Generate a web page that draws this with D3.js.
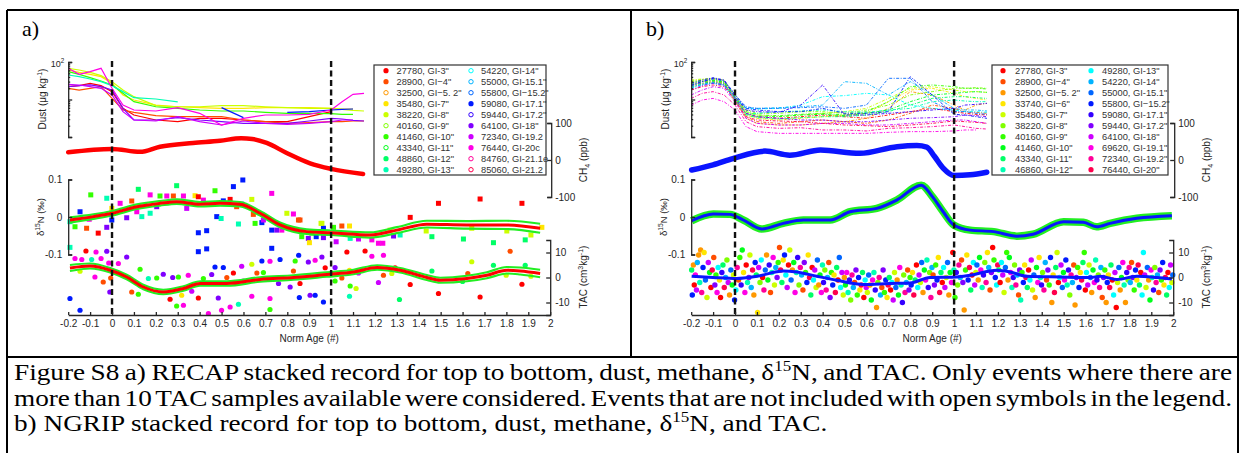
<!DOCTYPE html>
<html>
<head>
<meta charset="utf-8">
<script src="https://cdn.jsdelivr.net/npm/d3@7"></script>
<style>
  body { margin: 0; background: #fff; }
</style>
</head>
<body>
<svg id="fig" width="1244" height="453"></svg>
<script>
// ---- data ----
const xTicks = [-0.2,-0.1,0,0.1,0.2,0.3,0.4,0.5,0.6,0.7,0.8,0.9,1,1.1,1.2,1.3,1.4,1.5,1.6,1.7,1.8,1.9,2];
const dustMinorTicks = [2,3,4,5,6,7,8,9,20,30,40,50,60,70,80,90];
const dustMajorTicks = [1,10,100];
const dnTicks = [-0.1,0,0.1];
const ch4Ticks = [-100,0,100];
const tacTicks = [-10,0,10];

// legend entries (colour index = position in list)
const legendA = ['27780, GI-3"','28900, GI\u22124"','32500, GI\u22125. 2"','35480, GI-7"','38220, GI-8"','40160, GI-9"','41460, GI-10"','43340, GI-11"','48860, GI-12"','49280, GI-13"',
  '54220, GI-14"','55000, GI-15.1"','55800, GI\u221215.2"','59080, GI-17.1"','59440, GI-17.2"','64100, GI-18"','72340, GI-19.2','76440, GI-20c','84760, GI-21.1e','85060, GI-21.2'];
const legendAFilled = [1,1,0,1,1,0,1,0,1,1, 0,0,0,1,0,1,1,1,0,0];
const legendB = ['27780, GI-3"','28900, GI\u22124"','32500, GI\u22125. 2"','33740, GI\u22126"','35480, GI-7"','38220, GI-8"','40160, GI-9"','41460, GI-10"','43340, GI-11"','46860, GI-12"',
  '49280, GI-13"','54220, GI-14"','55000, GI-15.1"','55800, GI\u221215.2"','59080, GI-17.1"','59440, GI-17.2"','64100, GI-18"','69620, GI-19.1"','72340, GI-19.2"','76440, GI-20"'];
const legendBFilled = [1,1,1,1,1,1,1,1,1,1, 1,1,1,1,1,1,1,1,1,1];

// dust (ug/kg) on a shared norm-age grid
const dustAges = [-0.2,-0.15,-0.1,-0.05,0,0.05,0.1,0.2,0.3,0.4,0.5,0.6,0.7,0.8,0.9,1.0,1.05,1.1,1.15];
const dustA = [
  {c:0,  v:[22,23.4,27,23.4,16.2,5.8,3.86,2.84,2.56,3.15,3.15,2.84,2.56,2.56,3.48,4.74,null,null,null]},
  {c:1,  v:[19.9,17.9,19.9,22,10.7,5.25,4.55,3.71,3.48,3.48,3.48,2.84,2.56,2.31,2.41,2.56,2.56,2.67,2.67]},
  {c:3,  v:[61.2,53,46.9,40.6,27,13.2,9.7,7.1,6.4,6.06,5.8,5.8,6.06,6.06,6.06,5.8,5.58,5.58,null]},
  {c:4,  v:[67.8,61.2,53,43.2,29.9,17.9,11.9,6.85,6.4,6.4,6.85,6.85,6.4,6.06,5.8,5.8,5.47,5.14,4.94]},
  {c:6,  v:[55.2,46.9,38.2,31.1,24.4,14.6,8.75,6.4,5.8,5.25,4.94,4.94,4.55,4.28,4.28,4.19,4.02,4.02,null]},
  {c:9,  v:[45,40.6,35.2,29.9,23.4,16.2,11.2,10.3,8.6,null,null,null,null,null,null,null,null,null,null]},
  {c:13, v:[null,null,null,null,null,null,null,null,null,null,6.06,3.28,null,4.55,4.74,5.25,5.47,5.58,null]},
  {c:15, v:[22,23.4,24.4,22,17.9,5.8,2.84,2.84,3.28,2.84,2.56,2.31,2.31,2.31,2.67,3.15,3.02,2.78,2.67]},
  {c:16, v:[25.4,24.4,22,19.9,13.2,4.74,2.84,2.67,3.48,2.56,2.09,2.67,2.31,2.18,2.31,2.56,2.84,2.84,null]},
  {c:17, v:[67.8,46.9,55.2,67.8,19.9,7.1,5.25,4.94,6.06,4.28,2.09,3.15,3.86,3.86,4.02,5.25,8.75,13.7,14.6]}
];
const dustB = [
  {c:0,  v:[24.4,27,29.9,27,10.7,4.28,3.48,3.15,3.48,3.86,3.48,3.15,3.86,4.74,5.8,4.74,4.28,4.02,3.86]},
  {c:1,  v:[22,25.4,28.7,25.4,9.7,3.48,2.56,2.31,2.56,2.84,2.56,2.31,2.84,4.28,7.1,5.8,4.74,4.55,4.28]},
  {c:2,  v:[27,29.9,31.1,28.7,8.75,3.15,2.31,2.09,2.09,2.31,2.56,3.15,5.8,16.2,13.2,7.1,5.25,7.1,7.9]},
  {c:3,  v:[29.9,33.1,35.2,29.9,10.7,3.86,3.15,2.84,3.15,3.48,3.86,4.28,8.75,17.9,19.9,14.6,11.9,10.7,9.7]},
  {c:4,  v:[33.1,35.2,36.7,33.1,11.9,4.74,3.86,3.48,3.86,4.28,4.74,5.8,10.7,19.9,22,17.9,16.2,16.2,15.5]},
  {c:5,  v:[31.1,33.8,36.7,32.4,13.2,5.25,4.28,4.28,4.74,4.74,4.28,5.25,7.1,13.2,16.2,19.9,19.9,20.7,19.9]},
  {c:6,  v:[28.7,31.1,33.1,29.9,11.9,4.74,3.86,3.71,4.02,4.28,3.86,4.74,8.75,22,24.4,22,19.9,19.9,19.1]},
  {c:7,  v:[25.4,29.9,32.4,28.7,11.2,4.28,3.48,3.48,3.86,4.02,3.71,4.28,5.25,8.75,13.2,14.6,15.5,16.2,15.5]},
  {c:8,  v:[23.4,27,29.9,26.4,10.3,3.86,3.28,3.02,3.28,3.48,3.48,3.86,4.74,7.1,10.7,11.9,11.9,11.2,10.7]},
  {c:9,  v:[22,25.4,27.5,24.4,9.7,4.02,4.28,4.74,4.94,5.25,4.74,4.55,5.25,5.8,8.75,9.7,9.1,8.75,8.75]},
  {c:10, v:[19.9,24.4,27,23.4,10.7,5.8,5.58,5.8,7.1,11.9,12.7,14.6,13.2,7.1,5.8,5.25,4.74,4.74,4.55]},
  {c:11, v:[20.7,25.4,28.7,24.4,11.2,6.06,5.8,6.06,6.4,7.1,29.9,27,13.2,29.9,13.2,5.8,5.25,5.25,4.94]},
  {c:12, v:[24.4,29.9,35.2,31.1,13.2,6.4,5.8,5.8,6.06,6.4,5.8,7.1,36.7,36.7,8.75,4.74,4.74,4.28,4.02]},
  {c:13, v:[27,33.1,38.2,33.1,13.7,5.8,5.25,4.74,4.74,5.8,4.28,4.28,4.74,40.6,13.2,4.02,3.86,3.48,3.15]},
  {c:14, v:[23.4,29.9,36.7,32.4,11.9,5.25,4.74,4.55,7.1,24.4,3.86,3.86,4.28,4.74,5.25,5.8,7.1,7.43,7.9]},
  {c:15, v:[17.9,23.4,27,24.4,10.7,4.28,3.48,3.15,2.84,2.84,2.56,2.56,2.84,3.15,3.28,3.48,3.86,3.71,3.48]},
  {c:16, v:[13.2,17.9,22,19.9,8.75,3.15,2.31,2.09,2.09,2.31,2.31,2.09,2.09,2.31,2.56,2.84,2.84,2.56,2.31]},
  {c:17, v:[7.1,9.7,10.7,8.75,5.25,1.89,1.39,1.25,1.25,1.25,1.25,1.25,1.33,1.39,1.39,1.45,1.54,1.54,null]},
  {c:18, v:[10.7,14.6,16.2,13.2,7.1,2.56,1.89,1.7,1.77,1.54,1.54,1.45,1.7,1.77,1.89,2.09,1.89,1.7,1.63]},
  {c:19, v:[17.9,22,24.4,22,9.7,3.48,2.84,2.67,2.56,2.31,2.09,2.0,1.89,2.09,2.31,2.67,2.56,2.46,2.31]}
];

// methane anomaly (ppb)
const ch4AAges = [-0.2,0,0.128,0.219,0.37,0.493,0.59,0.64,0.706,0.797,0.904,1.0,1.146];
const ch4AVals = [21,30,22,36,46,52,59,57,46,19,-9,-24,-38];
const ch4BAges = [-0.198,-0.1,-0.01,0.137,0.25,0.39,0.57,0.74,0.83,0.875,0.91,0.95,1.0,1.073,1.149];
const ch4BVals = [-27,-13,4,24,13,27,18,36,39,35,10,-22,-42,-40,-33];

// d15N stacks (permil)
const dnAAges = [-0.192,-0.085,0,0.114,0.219,0.295,0.402,0.493,0.584,0.676,0.767,0.889,1.003,1.178,1.3,1.437,1.62,1.802,1.954];
const dnAVals = [-0.008,0.001,0.01,0.0275,0.0365,0.041,0.034,0.0365,0.034,0.01,-0.021,-0.039,-0.042,-0.048,-0.035,-0.019,-0.021,-0.021,-0.03];
const dnAErr  = [0.007,0.006,0.006,0.006,0.006,0.006,0.006,0.006,0.006,0.006,0.006,0.006,0.006,0.007,0.008,0.009,0.01,0.011,0.012];
const dnBAges = [-0.198,-0.099,-0.023,0.038,0.122,0.22,0.312,0.434,0.525,0.647,0.738,0.85,0.9,0.95,1.0,1.073,1.18,1.286,1.36,1.5,1.59,1.65,1.712,1.834,1.994];
const dnBVals = [-0.01,0.008,0.007,-0.008,-0.032,-0.017,-0.008,-0.008,0.014,0.023,0.045,0.085,0.055,0.014,-0.022,-0.035,-0.039,-0.051,-0.046,-0.0125,-0.014,-0.026,-0.017,-0.0035,0.0035];

// TAC stacks (cm3/kg anomaly)
const tacAAges = [-0.192,-0.1,-0.008,0.067,0.143,0.234,0.326,0.402,0.524,0.676,0.828,0.98,1.102,1.21,1.315,1.437,1.498,1.62,1.711,1.802,1.863,1.954];
const tacAVals = [3.8,4.6,2.9,0.2,-3.8,-5.8,-4.4,-2.4,-2.4,-0.8,0,1.2,2.2,4,2.9,0,-1.1,-0.4,0.9,2.9,2.6,1.6];
const tacAErr  = [1.2,1,0.9,0.9,0.9,0.9,0.9,0.9,0.9,0.9,0.9,0.9,0.9,0.9,0.9,1,1,1.1,1.2,1.3,1.4,1.5];
const tacBAges = [-0.198,-0.1,0.008,0.1,0.221,0.282,0.373,0.464,0.586,0.708,0.799,0.89,1.012,1.073,1.195,1.256,1.332,1.484,1.621,1.667,1.743,1.834,1.925,1.994];
const tacBVals = [0.5,0,-0.4,0.5,2.6,2.2,0.5,-1.1,-2.8,-2.4,-2.2,0,0.2,0.9,2.9,2.2,0.5,0.2,0,0.5,-0.8,0.5,0,-0.6];

// individual samples [norm age, value, colour index]
const dnAPts = [[-0.192,-0.0125,9],[-0.169,-0.026,6],[-0.146,0.014,13],[-0.116,-0.03,1],[-0.097,0.059,6],[-0.104,-0.006,17],[-0.063,-0.043,0],[-0.024,0.05,9],[-0.024,-0.0275,15],[-0.001,0.023,3],[-0.001,-0.008,13],[0.037,0.0365,17],[0.067,-0.002,15],[0.09,0.0427,1],[0.12,0.0738,8],[0.113,0.014,17],[0.136,0.001,9],[0.174,0.059,17],[0.174,0.01,9],[0.204,0.0275,15],[0.219,0.056,6],[0.25,0.056,17],[0.28,0.056,1],[0.295,0.0835,8],[0.326,0.056,17],[0.341,0.023,16],[0.379,0.0568,3],[0.394,0.054,0],[0.417,0.045,17],[0.47,0.07,6],[0.478,0.001,13],[0.498,-0.004,9],[0.508,0.043,13],[0.539,0.047,0],[0.554,0.081,13],[0.569,0.0275,1],[0.577,-0.0187,9],[0.597,0.0987,13],[0.592,0.034,13],[0.638,0.047,4],[0.645,0.007,1],[0.653,-0.017,6],[0.684,-0.015,13],[0.691,-0.008,16],[0.729,0.063,17],[0.729,-0.035,13],[0.752,-0.035,15],[0.775,-0.035,17],[0.798,0.0099,4],[0.828,0.008,17],[0.851,-0.008,1],[0.866,-0.0525,6],[0.896,-0.057,15],[0.912,-0.043,6],[0.958,-0.017,4],[0.965,-0.03,13],[0.394,-0.042,13],[0.432,-0.0365,13],[0.394,-0.0925,13],[0.432,-0.085,13],[0.729,-0.0835,13],[1.49,0.0365,0],[1.68,0.048,0],[1.871,0.0365,0],[1.361,-0.001,0],[0.858,-0.008,1],[1.049,-0.024,1],[1.084,-0.024,3],[0.954,-0.017,4],[1.011,-0.0276,6],[0.901,-0.0685,3],[0.932,-0.0525,13],[0.965,-0.055,15],[1.023,-0.066,16],[1.087,-0.057,9],[1.125,-0.0587,16],[1.186,-0.061,17],[1.216,-0.07,17],[1.236,-0.07,17],[1.285,-0.0507,15],[1.269,-0.035,4],[1.315,-0.048,9],[1.434,-0.0373,4],[1.46,-0.0525,8],[1.604,-0.0587,8],[1.642,-0.03,4],[1.741,-0.0685,8],[1.802,-0.0373,4],[1.886,-0.061,8],[1.912,-0.048,4],[1.962,-0.0276,3],[-0.192,-0.081,9]];

const tacAPts = [[-0.169,7.6,17],[-0.138,7.2,17],[-0.119,10.6,0],[-0.093,7.2,9],[-0.073,10.2,17],[-0.05,7.6,17],[-0.024,10.5,15],[-0.015,5.8,17],[-0.146,2.5,4],[-0.078,0.2,17],[-0.04,-1.8,1],[-0.006,-0.2,1],[-0.01,-5.8,15],[-0.192,-8.4,13],[-0.146,-13.1,13],[0.029,5.6,17],[0.067,8.2,15],[0.09,-5.8,1],[0.12,-6.7,6],[0.128,3.3,6],[0.166,-0.4,9],[0.204,-0.2,6],[0.234,1.3,15],[0.265,-8.7,0],[0.295,-11.4,6],[0.277,0,15],[0.303,0.2,6],[0.318,-7.1,3],[0.326,-11.1,17],[0.348,0.9,17],[0.364,-5.5,16],[0.394,-8.2,0],[0.417,-0.4,6],[0.44,-14.4,17],[0.455,1.2,15],[0.47,4.2,13],[0.485,-8.2,15],[0.508,4,13],[0.5,-13.1,17],[0.524,0,1],[0.539,-11.8,17],[0.554,1.8,0],[0.577,-10.7,9],[0.592,4.5,16],[0.6,-1.4,17],[0.638,-7.5,17],[0.638,5.3,4],[0.661,1.8,1],[0.684,6.6,13],[0.691,2,6],[0.721,6.5,17],[0.721,-8.4,17],[0.721,-12.8,6],[0.767,7.2,13],[0.76,-2.4,15],[0.813,-3.8,15],[0.828,2.6,1],[0.836,6.6,6],[0.852,8.9,13],[0.858,-2.4,0],[0.855,-8,13],[0.896,6.2,15],[0.904,-7.1,15],[0.927,6.9,17],[0.927,-7.1,13],[0.958,8.2,15],[0.965,-9.8,13],[0.973,3.9,0],[1.072,10.2,0],[1.155,10.6,0],[1.186,8.5,17],[1.239,8.9,17],[1.018,4,15],[1.049,-0.2,1],[1.018,-1.4,6],[1.084,2.9,3],[1.087,-3.4,6],[1.114,-4.4,4],[1.084,-7.5,9],[1.125,1.8,16],[1.216,-2,16],[1.239,0.9,1],[1.277,1.6,4],[1.292,3.9,0],[1.312,-8.8,8],[1.361,-2.8,0],[1.46,2.6,8],[1.49,-6.4,0],[1.6,-1.6,8],[1.624,1.6,1],[1.642,6.3,4],[1.68,-7.8,0],[1.741,4.9,8],[1.817,10.5,1],[1.799,0.9,4],[1.871,-2.7,0],[1.886,4.9,8],[1.912,0.5,4]];

const tacBPts = [
[-0.198,3,8],[-0.195,-7,13],[-0.19,5,2],[-0.186,-3,0],[-0.181,1,17],[-0.176,-5,16],[-0.172,6,11],[-0.166,9,2],[-0.161,-2,9],[-0.157,11,2],[-0.152,-6,18],[-0.146,4,13],[-0.141,10,3],[-0.135,-1,12],[-0.128,-8,4],[-0.122,6,16],[-0.116,2,7],[-0.11,-4,0],[-0.104,3,19],
[-0.097,8,1],[-0.092,-3,15],[-0.087,1,6],[-0.082,-6,17],[-0.077,4,10],[-0.071,-1,3],[-0.066,-8,0],[-0.06,2,14],[-0.055,5,8],[-0.049,-4,19],[-0.043,0,11],[-0.037,7,5],[-0.031,-2,16],[-0.025,-7,2],[-0.019,3,12],[-0.013,-3,7],[-0.007,1,4],[-0.002,-9,13],
[0.004,-5,10],[0.01,4,18],[0.016,-1,1],[0.022,8,6],[0.028,-3,14],[0.033,11,7],[0.039,2,3],[0.045,-6,17],[0.051,5,0],[0.057,-2,9],[0.063,0,15],[0.068,9,4],[0.074,-4,11],[0.08,3,19],[0.086,-7,2],[0.092,6,13],[0.097,1,8],
[0.103,-14,3],[0.108,4,16],[0.114,-2,5],[0.12,7,10],[0.126,0,0],[0.132,-5,18],[0.138,3,12],[0.144,9,2],[0.15,-1,7],[0.156,5,14],[0.162,-6,1],[0.168,2,9],[0.174,8,17],[0.18,-3,4],[0.186,4,11],[0.192,0,15],[0.197,6,6],
[0.203,12,1],[0.208,3,19],[0.214,-2,8],[0.22,7,3],[0.226,9,13],[0.232,1,10],[0.238,-4,16],[0.244,5,0],[0.25,11,4],[0.256,-1,12],[0.262,3,2],[0.268,6,7],[0.274,-6,17],[0.28,2,9],[0.286,8,14],[0.292,-3,5],[0.298,4,18],
[0.304,1,11],[0.31,-5,1],[0.316,6,15],[0.322,2,6],[0.328,-2,13],[0.334,9,3],[0.34,0,19],[0.346,-7,8],[0.352,4,0],[0.358,-1,10],[0.364,3,16],[0.37,-4,4],[0.376,7,12],[0.382,-3,2],[0.388,1,7],[0.394,-6,17],[0.399,5,9],
[0.404,-2,14],[0.41,3,5],[0.416,-5,18],[0.422,0,11],[0.428,6,1],[0.434,-8,15],[0.44,2,6],[0.446,-3,13],[0.452,1,3],[0.458,-6,19],[0.464,4,8],[0.47,-1,0],[0.476,8,12],[0.482,-4,10],[0.488,2,16],[0.494,-7,4],[0.499,0,2],
[0.504,-3,7],[0.51,2,17],[0.516,-6,9],[0.522,-1,14],[0.528,-9,5],[0.534,1,18],[0.54,-4,11],[0.546,-2,1],[0.552,3,15],[0.558,-7,6],[0.564,0,13],[0.57,-5,3],[0.576,-3,19],[0.582,2,8],[0.588,-8,0],[0.594,-1,10],[0.599,-4,16],
[0.604,-6,4],[0.61,1,12],[0.616,-3,2],[0.622,-9,7],[0.628,-1,17],[0.634,2,9],[0.64,-5,14],[0.646,-12,2],[0.652,-2,5],[0.658,0,18],[0.664,-7,11],[0.67,-4,1],[0.676,3,15],[0.682,-6,6],[0.688,-1,13],[0.694,-8,3],[0.699,-3,19],
[0.704,0,8],[0.71,-5,0],[0.716,-2,10],[0.722,-9,16],[0.728,2,4],[0.734,-4,12],[0.74,-1,2],[0.746,-7,7],[0.752,4,17],[0.758,-3,9],[0.764,-10,14],[0.77,1,5],[0.776,-6,18],[0.782,-2,11],[0.788,3,1],[0.794,-5,15],[0.799,0,6],
[0.804,-3,13],[0.81,2,3],[0.816,-7,19],[0.822,-1,8],[0.828,5,0],[0.834,-4,10],[0.84,1,16],[0.846,-2,4],[0.852,6,12],[0.858,-6,2],[0.864,3,7],[0.87,-1,17],[0.876,7,9],[0.882,-4,14],[0.888,2,5],[0.894,-8,18],[0.899,4,11],
[0.904,1,1],[0.91,-3,15],[0.916,5,6],[0.922,-1,13],[0.928,8,3],[0.934,-6,19],[0.94,2,8],[0.946,-2,0],[0.952,4,10],[0.958,-4,16],[0.964,0,4],[0.97,6,12],[0.976,-7,2],[0.982,2,7],[0.988,-2,17],[0.994,10,0],[0.999,3,9],
[1.004,-8,6],[1.01,2,14],[1.016,-3,5],[1.022,5,18],[1.028,0,11],[1.034,7,1],[1.04,-2,15],[1.046,-13,2],[1.052,3,6],[1.058,9,3],[1.064,-1,13],[1.07,4,19],[1.076,-5,8],[1.082,1,0],[1.088,6,10],[1.094,-3,16],[1.099,2,4],
[1.104,5,12],[1.11,-1,2],[1.116,8,7],[1.122,3,17],[1.128,-4,9],[1.134,1,14],[1.14,6,5],[1.146,-2,18],[1.152,10,3],[1.158,4,11],[1.164,-5,1],[1.17,2,15],[1.176,12,0],[1.182,7,6],[1.188,0,13],[1.194,-3,10],[1.199,5,19],
[1.204,3,8],[1.21,-2,0],[1.216,6,10],[1.222,1,16],[1.228,-6,4],[1.234,4,12],[1.24,10,6],[1.246,-1,2],[1.252,8,7],[1.258,2,17],[1.264,-4,9],[1.27,0,14],[1.276,5,5],[1.282,-3,18],[1.288,1,11],[1.294,-7,1],[1.299,3,15],
[1.304,-9,9],[1.31,2,6],[1.316,-2,13],[1.322,5,3],[1.328,0,19],[1.334,-4,8],[1.34,3,0],[1.346,-1,10],[1.352,7,16],[1.358,-5,4],[1.364,1,12],[1.37,-8,2],[1.376,4,7],[1.382,-2,17],[1.388,8,3],[1.394,0,9],[1.399,-3,14],
[1.404,2,5],[1.41,-5,18],[1.416,6,11],[1.422,-1,1],[1.428,3,15],[1.434,-3,6],[1.44,8,13],[1.446,-10,2],[1.452,1,3],[1.458,-6,19],[1.464,4,8],[1.47,10,4],[1.476,-2,0],[1.482,0,10],[1.488,5,16],[1.494,-4,12],[1.499,2,7],
[1.504,-1,17],[1.51,7,13],[1.516,-3,9],[1.522,3,14],[1.528,-7,5],[1.534,1,18],[1.54,-2,11],[1.546,5,1],[1.552,-11,2],[1.558,0,15],[1.564,4,6],[1.57,-4,13],[1.576,2,3],[1.582,-1,19],[1.588,6,8],[1.594,10,6],[1.599,-5,0],
[1.604,2,10],[1.61,-3,16],[1.616,5,4],[1.622,0,12],[1.628,-6,2],[1.634,3,7],[1.64,-2,17],[1.646,7,9],[1.652,-1,14],[1.658,1,5],[1.664,-4,18],[1.67,4,11],[1.676,-8,1],[1.682,0,15],[1.688,3,6],[1.694,-10,2],[1.699,-2,13],
[1.704,1,3],[1.71,-4,19],[1.716,5,8],[1.722,-1,0],[1.728,-7,10],[1.734,2,16],[1.74,-12,0],[1.746,-2,4],[1.752,4,12],[1.758,-5,2],[1.764,0,7],[1.77,6,17],[1.776,-3,9],[1.782,-10,2],[1.788,2,14],[1.794,-1,5],[1.799,4,18],
[1.804,-2,11],[1.81,6,1],[1.816,0,15],[1.822,-5,6],[1.828,3,13],[1.834,-1,3],[1.84,5,19],[1.846,-3,8],[1.852,2,0],[1.858,-7,10],[1.864,10,10],[1.87,1,16],[1.876,-4,4],[1.882,4,12],[1.888,-1,2],[1.894,-9,7],[1.899,3,17],
[1.904,0,9],[1.91,-5,14],[1.916,4,5],[1.922,-2,18],[1.928,1,11],[1.934,-6,1],[1.94,3,15],[1.946,-1,6],[1.952,6,13],[1.958,-3,3],[1.964,0,19],[1.97,-7,8],[1.976,2,0],[1.982,-4,10],[1.988,5,16],[1.994,-2,4],[1.998,1,12]
];

const eventAges = [0, 1];

const captionLines = [
  'Figure S8 a) RECAP stacked record for top to bottom, dust, methane, \u03b4^15N, and TAC. Only events where there are',
  'more than 10 TAC samples available were considered. Events that are not included with open symbols in the legend.',
  'b) NGRIP stacked record for top to bottom, dust, methane, \u03b4^15N, and TAC.'
];

// ---- drawing ----
const svg = d3.select('#fig');
const FONT = 'Arial, "Liberation Sans", Helvetica, sans-serif';
const SERIF = '"Liberation Serif", "Times New Roman", serif';
const INK = '#262626';
const hsv = i => d3.hsl(i * 18, 1, 0.5).formatHex();

function rich(t, parts, size) {
  let shift = 0;
  parts.forEach(([s, k]) => {
    const target = k === 'sup' ? -size * 0.4 : k === 'sub' ? size * 0.3 : 0;
    t.append('tspan').attr('dy', target - shift).attr('font-size', k ? size * 0.7 : size).text(s);
    shift = target;
  });
}

function styleAxis(sel) {
  sel.attr('font-family', FONT).attr('font-size', 10);
  sel.select('.domain').attr('stroke', INK).attr('stroke-width', 1.3);
  sel.selectAll('.tick line').attr('stroke', INK).attr('stroke-width', 1.3);
  sel.selectAll('.tick text').attr('fill', INK);
}

const fmt = d => String(Math.round(d * 10) / 10);

function drawPanel(o) {
  const g = svg.append('g');
  const x = d3.scaleLinear().domain([-0.2, 2]).range([o.x0, o.x0 + 482]);
  const yD = d3.scaleLog().domain([1, 100]).range([137, 62]);
  const yC = d3.scaleLinear().domain([-100, 100]).range([197, 123]);
  const yN = d3.scaleLinear().domain([-0.1, 0.1]).range([254.5, 179.5]);
  const yT = d3.scaleLinear().domain([-15, 15]).range([315, 240]);
  const xR = o.x0 + 482;

  // dust
  const dLine = d3.line().defined(d => d[1] != null).x(d => x(d[0])).y(d => yD(d[1]));
  o.dust.forEach(s => {
    g.append('path')
      .datum(dustAges.map((a, i) => [a, s.v[i]]))
      .attr('d', dLine)
      .attr('fill', 'none')
      .attr('stroke', hsv(s.c))
      .attr('stroke-width', o.dustWidth)
      .attr('stroke-dasharray', o.dustDash);
  });

  // methane
  const cLine = d3.line().curve(d3.curveMonotoneX).x(d => x(d[0])).y(d => yC(d[1]));
  g.append('path')
    .datum(o.ch4Ages.map((a, i) => [a, o.ch4Vals[i]]))
    .attr('d', cLine).attr('fill', 'none')
    .attr('stroke', o.main).attr('stroke-width', o.ch4Width).attr('stroke-linecap', 'round');

  // d15N samples
  if (o.dnPts) {
    g.append('g').selectAll('rect').data(o.dnPts).join('rect')
      .attr('x', d => x(d[0]) - 2.5).attr('y', d => yN(d[1]) - 2.5)
      .attr('width', 5).attr('height', 5)
      .attr('fill', d => hsv(d[2]));
  }
  // TAC samples
  g.append('g').selectAll('circle').data(o.tacPts).join('circle')
    .attr('cx', d => x(d[0])).attr('cy', d => yT(d[1]))
    .attr('r', o.ptR)
    .attr('fill', d => hsv(d[2]));

  // stacks with envelopes
  const nLine = d3.line().curve(d3.curveMonotoneX).x(d => x(d[0])).y(d => yN(d[1]));
  const tLine = d3.line().curve(d3.curveMonotoneX).x(d => x(d[0])).y(d => yT(d[1]));
  if (o.dnErr) {
    [1, -1].forEach(sg => {
      g.append('path').datum(o.dnAges.map((a, i) => [a, o.dnVals[i] + sg * o.dnErr[i]]))
        .attr('d', nLine).attr('fill', 'none').attr('stroke', '#22ee22').attr('stroke-width', 2.2);
    });
  } else {
    g.append('path').datum(o.dnAges.map((a, i) => [a, o.dnVals[i]]))
      .attr('d', nLine).attr('fill', 'none').attr('stroke', '#22ee22').attr('stroke-width', 7.5);
  }
  g.append('path').datum(o.dnAges.map((a, i) => [a, o.dnVals[i]]))
    .attr('d', nLine).attr('fill', 'none').attr('stroke', o.main).attr('stroke-width', 3);
  if (o.tacErr) {
    [1, -1].forEach(sg => {
      g.append('path').datum(o.tacAges.map((a, i) => [a, o.tacVals[i] + sg * o.tacErr[i]]))
        .attr('d', tLine).attr('fill', 'none').attr('stroke', '#22ee22').attr('stroke-width', 2.2);
    });
  }
  g.append('path').datum(o.tacAges.map((a, i) => [a, o.tacVals[i]]))
    .attr('d', tLine).attr('fill', 'none').attr('stroke', o.main).attr('stroke-width', 3);

  // event markers
  g.selectAll('line.ev').data(eventAges).join('line').attr('class', 'ev')
    .attr('x1', d => x(d)).attr('x2', d => x(d))
    .attr('y1', 61).attr('y2', 314)
    .attr('stroke', '#111').attr('stroke-width', 2.4).attr('stroke-dasharray', '6,3.5');

  // axes
  g.append('g').attr('transform', 'translate(0,315)')
    .call(d3.axisBottom(x).tickValues(xTicks).tickSizeInner(-3).tickSizeOuter(0).tickPadding(5).tickFormat(fmt))
    .call(styleAxis);
  g.append('text').attr('x', (o.x0 + xR) / 2).attr('y', 342)
    .attr('text-anchor', 'middle').attr('font-family', FONT).attr('font-size', 10).attr('fill', INK)
    .text('Norm Age (#)');

  g.append('g').attr('transform', `translate(${o.x0},0)`)
    .call(d3.axisLeft(yN).tickValues(dnTicks).tickSizeInner(-4).tickSizeOuter(-4).tickPadding(6).tickFormat(fmt))
    .call(styleAxis);
  const tN = g.append('text').attr('transform', `translate(${o.x0 - 24},217) rotate(-90)`)
    .attr('text-anchor', 'middle').attr('font-family', FONT).attr('fill', INK);
  rich(tN, [['\u03b4', null], ['15', 'sup'], ['N (\u2030)', null]], 9.5);

  g.append('g').attr('transform', `translate(${o.x0},0)`)
    .call(d3.axisLeft(yD).tickValues(dustMinorTicks).tickSizeInner(-2).tickSizeOuter(-4).tickFormat(''))
    .call(styleAxis);
  g.append('g').attr('transform', `translate(${o.x0},0)`)
    .call(d3.axisLeft(yD).tickValues(dustMajorTicks).tickSizeInner(-4).tickSizeOuter(0).tickFormat(''))
    .call(styleAxis).select('.domain').remove();
  const tTop = g.append('text').attr('x', o.x0 - 4).attr('y', yD(100) + 5)
    .attr('text-anchor', 'end').attr('font-family', FONT).attr('fill', INK);
  rich(tTop, [['10', null], ['2', 'sup']], 9);
  const tD = g.append('text').attr('transform', `translate(${o.x0 - 22},99) rotate(-90)`)
    .attr('text-anchor', 'middle').attr('font-family', FONT).attr('fill', INK);
  rich(tD, [['Dust (\u03bcg kg', null], ['-1', 'sup'], [')', null]], 10);

  g.append('g').attr('transform', `translate(${xR + 1},0)`)
    .call(d3.axisRight(yC).tickValues(ch4Ticks).tickSizeInner(-4).tickSizeOuter(-4).tickPadding(4).tickFormat(fmt))
    .call(styleAxis);
  const tC = g.append('text').attr('transform', `translate(${xR + 37},160) rotate(-90)`)
    .attr('text-anchor', 'middle').attr('font-family', FONT).attr('fill', INK);
  rich(tC, [['CH', null], ['4', 'sub'], [' (ppb)', null]], 10);

  g.append('g').attr('transform', `translate(${xR},0)`)
    .call(d3.axisRight(yT).tickValues(tacTicks).tickSizeInner(-4).tickSizeOuter(-4).tickPadding(5).tickFormat(fmt))
    .call(styleAxis);
  const tT = g.append('text').attr('transform', `translate(${xR + 37},277) rotate(-90)`)
    .attr('text-anchor', 'middle').attr('font-family', FONT).attr('fill', INK);
  rich(tT, [['TAC (cm', null], ['3', 'sup'], ['kg', null], ['-1', 'sup'], [')', null]], 10);

  // legend
  const L = o.legend;
  g.append('rect').attr('x', L.x).attr('y', L.y).attr('width', L.w).attr('height', L.h)
    .attr('fill', '#fff').attr('stroke', '#333').attr('stroke-width', 1.2);
  o.legendText.forEach((s, i) => {
    const col = i < 10 ? 0 : 1;
    const row = i % 10;
    const cy = L.y + 5.7 + row * 11;
    const mx = col ? L.mx2 : L.mx1;
    const filled = o.legendFilled[i];
    g.append('circle').attr('cx', mx).attr('cy', cy)
      .attr('r', filled ? 2.6 : 2.2)
      .attr('fill', filled ? hsv(i) : '#fff')
      .attr('stroke', filled ? 'none' : hsv(i)).attr('stroke-width', 1);
    g.append('text').attr('x', col ? L.tx2 : L.tx1).attr('y', cy + 3.3)
      .attr('font-family', FONT).attr('font-size', 9.3).attr('fill', '#333').text(s);
  });

  svg.append('text').attr('x', o.labelX).attr('y', 36)
    .attr('font-family', SERIF).attr('font-size', 22).attr('fill', '#000').text(o.label);
}

drawPanel({
  x0: 68.2, label: 'a)', labelX: 22, main: '#ff0000',
  dust: dustA, dustWidth: 1.2, dustDash: null,
  ch4Ages: ch4AAges, ch4Vals: ch4AVals, ch4Width: 4.5,
  dnAges: dnAAges, dnVals: dnAVals, dnErr: dnAErr, dnPts: dnAPts,
  tacAges: tacAAges, tacVals: tacAVals, tacErr: tacAErr, tacPts: tacAPts, ptR: 2.6,
  legend: {x: 374, y: 65, w: 172, h: 110, mx1: 386, tx1: 396.5, mx2: 471, tx2: 481},
  legendText: legendA, legendFilled: legendAFilled
});
drawPanel({
  x0: 691.2, label: 'b)', labelX: 646, main: '#0a14ff',
  dust: dustB, dustWidth: 0.9, dustDash: '3,1.5,1,1.5',
  ch4Ages: ch4BAges, ch4Vals: ch4BVals, ch4Width: 5.5,
  dnAges: dnBAges, dnVals: dnBVals, dnErr: null, dnPts: null,
  tacAges: tacBAges, tacVals: tacBVals, tacErr: null, tacPts: tacBPts, ptR: 2.7,
  legend: {x: 992, y: 65, w: 176, h: 110, mx1: 1003, tx1: 1015, mx2: 1091, tx2: 1102},
  legendText: legendB, legendFilled: legendBFilled
});

// frame
const frame = svg.append('g').attr('stroke', '#000').attr('fill', 'none');
frame.append('path').attr('d', 'M7,10H1238V453M7,10V453').attr('stroke-width', 2);
frame.append('path').attr('d', 'M631,10V357').attr('stroke-width', 2);
frame.append('path').attr('d', 'M7,357H1238').attr('stroke-width', 2);

// caption: glyphs in the source are a little wider than plain Times, so stretch slightly
const CAP_SX = 1.135;
captionLines.forEach((line, i) => {
  const t = svg.append('text')
    .attr('transform', `translate(14,${380 + i * 25.7}) scale(${CAP_SX},1)`)
    .attr('font-family', SERIF).attr('font-size', 24).attr('fill', '#000');
  const parts = line.split(/\^(\d+)/);
  parts.forEach((p, j) => {
    if (j % 2 === 1) {
      t.append('tspan').attr('dy', -9).attr('font-size', 15).text(p);
    } else {
      t.append('tspan').attr('dy', j === 0 ? 0 : 9).text(p);
    }
  });
  if (i < 2) {
    const len = t.node().getComputedTextLength();
    const spaces = line.split(' ').length - 1;
    t.attr('word-spacing', (1218 / CAP_SX - len) / spaces);
  }
});
</script>
</body>
</html>
